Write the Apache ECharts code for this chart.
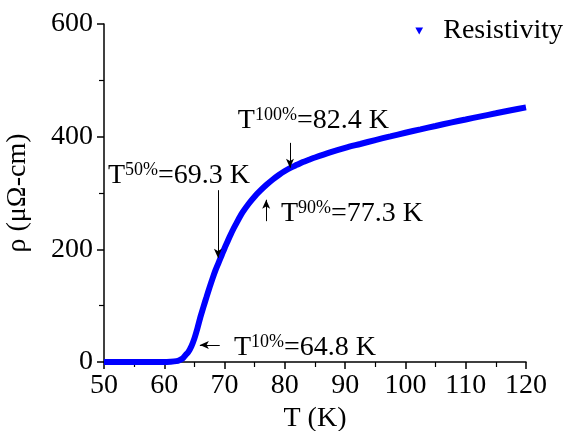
<!DOCTYPE html>
<html><head><meta charset="utf-8">
<script src="https://cdn.jsdelivr.net/npm/echarts@6/dist/echarts.min.js"></script>
<style>html,body{margin:0;padding:0;background:#fff}#c{width:569px;height:431px}</style>
</head><body><div id="c"></div>
<script>
var temps = [50,55,60,61,62,62.5,63,63.5,64,64.5,65,65.5,66,66.5,67,67.5,68,68.5,69,69.5,70,70.5,71,71.5,72,72.5,73,74,75,76,77,78,79,80,81,82,83,84,85,87.5,90,92.5,95,97.5,100,102.5,105,107.5,110,112.5,115,117.5,120];
var rho   = [0,0,0,0.5,1.5,3,6,12,18,28,42,60,80,98,115,132,148,163,176,189,202,214,226,237,247,257,266,281,294,305,315,324,332,339,345,350,355,359,363,372,380,387,394,400.5,407,413,419,425,430.5,436,441.5,447,452];
var xTicks = [50,60,70,80,90,100,110,120];
var yTicks = [0,200,400,600];
var seriesName = 'Resistivity';
var annSup  = ['100%','50%','90%','10%'];
var annRest = ['=82.4 K','=69.3 K','=77.3 K','=64.8 K'];
var annPos  = [[72.2,428],[50.66,330],[79.35,264],[71.56,25]];
var arrFrom = [[80.85,389],[68.9,305],[76.9,250],[69.2,30]];
var arrTo   = [[80.85,345],[68.9,185],[76.9,288],[65.9,30]];

var font = 'Liberation Serif';
var data = temps.map(function(t,i){return [t,rho[i]];});
var chart = echarts.init(document.getElementById('c'));
chart.setOption({
  animation:false,
  textStyle:{fontFamily:font},
  grid:{left:104,right:43,top:24,bottom:69,containLabel:false,outerBoundsMode:'none'},
  legend:{right:1,top:12,itemWidth:8,itemHeight:7,itemGap:0,
    icon:'path://M0,0L10,0L5,9Z',
    textStyle:{fontFamily:font,fontSize:28,color:'#000',padding:[0,0,0,15]},
    data:[seriesName]},
  xAxis:{type:'value',min:50,max:120,interval:10,
    name:'T (K)',nameLocation:'middle',nameGap:36,
    nameTextStyle:{fontFamily:font,fontSize:28,color:'#000'},
    axisLine:{lineStyle:{color:'#000',width:1.5}},
    axisTick:{show:true,length:7,lineStyle:{color:'#000',width:1.5}},
    minorTick:{show:true,splitNumber:2,length:5,lineStyle:{color:'#000',width:1.2}},
    splitLine:{show:false},
    axisLabel:{fontFamily:font,fontSize:28,color:'#000',margin:10}},
  yAxis:{type:'value',min:0,max:600,interval:200,
    name:'ρ (μΩ-cm)',nameLocation:'middle',nameGap:72,nameRotate:90,
    nameTextStyle:{fontFamily:font,fontSize:28,color:'#000'},
    axisLine:{show:true,lineStyle:{color:'#000',width:1.5}},
    axisTick:{show:true,length:7,lineStyle:{color:'#000',width:1.5}},
    minorTick:{show:true,splitNumber:2,length:5,lineStyle:{color:'#000',width:1.2}},
    splitLine:{show:false},
    axisLabel:{fontFamily:font,fontSize:28,color:'#000',margin:11}},
  series:[{
    name:seriesName,type:'line',data:data,showSymbol:false,symbol:'path://M0,0L10,0L5,9Z',
    color:'#0000ff',lineStyle:{color:'#0000ff',width:6},smooth:0.3,
    markLine:{silent:true,symbol:['none','arrow'],symbolSize:[6,9],
      lineStyle:{color:'#000',width:1,type:'solid'},label:{show:false},
      data:arrFrom.map(function(f,i){return [{coord:f},{coord:arrTo[i]}];})},
    markPoint:{silent:true,symbol:'circle',symbolSize:0,
      data:annPos.map(function(p,i){return {coord:p,
        label:{show:true,position:'right',distance:0,
          formatter:'{t|T}{s|'+annSup[i]+'}{r|'+annRest[i]+'}',
          rich:{t:{fontFamily:font,fontSize:28,color:'#000'},
                s:{fontFamily:font,fontSize:18,color:'#000',verticalAlign:'top',padding:[0,0,11,0]},
                r:{fontFamily:font,fontSize:28,color:'#000'}}}};})}
  }]
});
</script></body></html>
